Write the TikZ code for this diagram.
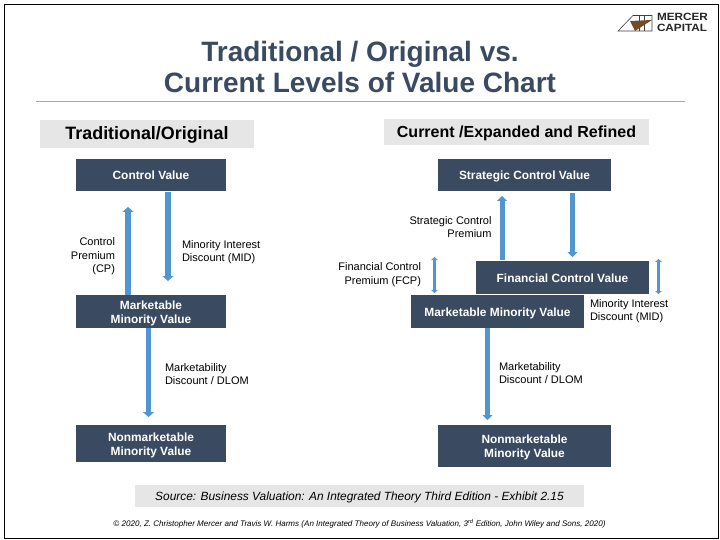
\documentclass[tikz,border=0pt]{standalone}
\usepackage{fontspec}
\setmainfont{Liberation Sans}
\usetikzlibrary{arrows.meta}
\definecolor{navy}{HTML}{3A4A60}
\definecolor{flow}{HTML}{5097D1}
\definecolor{band}{HTML}{E7E6E6}
\newcommand{\boxtext}[1]{\raisebox{-2pt}[\height][\depth]{\begin{tabular}{@{}c@{}}#1\end{tabular}}}
\tikzset{x=1pt,y=-1pt,
  every node/.style={inner sep=0pt,outer sep=0pt},
  valuebox/.style={fill=navy,text=white,font=\fontsize{11.9}{13.8}\selectfont\bfseries,align=center,minimum height=#1},
  band/.style={fill=band,anchor=center},
  lbl/.style={font=\fontsize{11}{13.5}\selectfont,text=black},
  bigflow/.style={draw=flow,line width=5.5pt,-{Triangle[length=5pt,width=11pt]}},
  medflow/.style={draw=flow,line width=5pt,-{Triangle[length=5pt,width=10pt]}},
  thinflow/.style={draw=flow,line width=2.2pt,{Triangle[length=3pt,width=6.5pt]}-{Triangle[length=3pt,width=6.5pt]}}
}
\begin{document}
\begin{tikzpicture}
\useasboundingbox (0,0) rectangle (720,540);
\fill[white] (0,0) rectangle (720,540);
\draw[black,line width=1pt] (4.5,4.5) rectangle (718.5,538.5);
% title
\node[text=navy,font=\fontsize{28}{30.5}\selectfont\bfseries,align=center] (title) at (360,67) {Traditional / Original vs.\\Current Levels of Value Chart};
\coordinate (ruleL) at (36,101); \coordinate (ruleR) at (685,101);
\draw[black!35,line width=0.8pt] (ruleL) -- (ruleR);
% logo
\draw[black!75,line width=0.6pt] (618,31) -- (633,15.5) -- (652,15.5) -- (652,31) -- cycle;
\draw[black!75,line width=0.6pt] (639,15.5) -- (639,31) (644,15.5) -- (644,31);
\fill[brown!60!black] (630,21) -- (652,20) -- (635,31) -- cycle;
\node[font=\fontsize{10.5}{10.5}\selectfont\bfseries,align=left,text=black!85,anchor=west] (logo) at (657,22.5) {\scalebox{1.12}[1]{MERCER}\\\scalebox{1.12}[1]{CAPITAL}};
% headers
\node[band,minimum width=214pt,minimum height=28pt] (hL) at (147,134) {};
\node[font=\fontsize{17.9}{20}\selectfont\bfseries] (hLt) at (147,134.5) {Traditional/Original};
\node[band,minimum width=265pt,minimum height=26pt] (hR) at (516.5,132) {};
\node[font=\fontsize{16}{18}\selectfont\bfseries] (hRt) at (516.5,133) {Current /Expanded and Refined};
% left
\node[valuebox=32pt,minimum width=150pt] (cv) at (151,175) {\boxtext{Control Value}};
\node[valuebox=33pt,minimum width=150pt] (mm) at (151,311.5) {\boxtext{Marketable\\Minority Value}};
\node[valuebox=37pt,minimum width=150pt] (nm) at (151,443.5) {\boxtext{Nonmarketable\\Minority Value}};
\coordinate (a1s) at (128,295); \coordinate (a1e) at (128,207);
\coordinate (a2s) at (168,192); \coordinate (a2e) at (168,281);
\coordinate (a3s) at (148.5,328); \coordinate (a3e) at (148.5,417);
\draw[bigflow] (a1s) -- (a1e);
\draw[bigflow] (a2s) -- (a2e);
\draw[bigflow] (a3s) -- (a3e);
\node[lbl,align=right,anchor=east] (cp) at (115,256.5) {Control\\Premium\hspace*{4pt}\\(CP)};
\node[lbl,align=left,anchor=west] (mid) at (182,252) {Minority Interest\\Discount (MID)};
\node[lbl,align=left,anchor=west] (dl) at (165,374) {Marketability\\Discount / DLOM};
% right
\node[valuebox=32pt,minimum width=173pt] (scv) at (524.5,175) {\boxtext{Strategic Control Value}};
\node[valuebox=33pt,minimum width=173pt] (fcv) at (562.5,277.5) {\boxtext{Financial Control Value}};
\node[valuebox=33pt,minimum width=173pt] (mmv) at (497.5,311.5) {\boxtext{Marketable Minority Value}};
\node[valuebox=42pt,minimum width=173pt] (nmv) at (524.5,446) {\boxtext{Nonmarketable\\Minority Value}};
\coordinate (b1s) at (502,260); \coordinate (b1e) at (502,196);
\coordinate (b2s) at (572.5,193); \coordinate (b2e) at (572.5,257);
\coordinate (b3s) at (487.5,328); \coordinate (b3e) at (487.5,420);
\coordinate (b4s) at (434.5,257); \coordinate (b4e) at (434.5,293);
\coordinate (b5s) at (658.5,259); \coordinate (b5e) at (658.5,294);
\draw[medflow] (b1s) -- (b1e);
\draw[medflow] (b2s) -- (b2e);
\draw[medflow] (b3s) -- (b3e);
\draw[thinflow] (b4s) -- (b4e);
\draw[thinflow] (b5s) -- (b5e);
\node[lbl,align=right,anchor=east] (scp) at (491.5,227) {Strategic Control\\Premium};
\node[lbl,align=right,anchor=east] (fcp) at (421,274.5) {Financial Control\\Premium (FCP)};
\node[lbl,align=left,anchor=west] (mid2) at (590,311) {Minority Interest\\Discount (MID)};
\node[lbl,align=left,anchor=west] (dl2) at (499,373) {Marketability\\Discount / DLOM};
% source
\node[band,minimum width=449pt,minimum height=22pt] (src) at (359.5,496) {};
\node[font=\fontsize{11.9}{14}\selectfont\itshape] (srct) at (359.5,497) {Source: Business Valuation: An Integrated Theory Third Edition - Exhibit 2.15};
\node[font=\fontsize{8.05}{9}\selectfont\itshape] (copy) at (359.5,523.5) {© 2020, Z. Christopher Mercer and Travis W. Harms (An Integrated Theory of Business Valuation, 3\textsuperscript{rd} Edition, John Wiley and Sons, 2020)};
\end{tikzpicture}
\end{document}
